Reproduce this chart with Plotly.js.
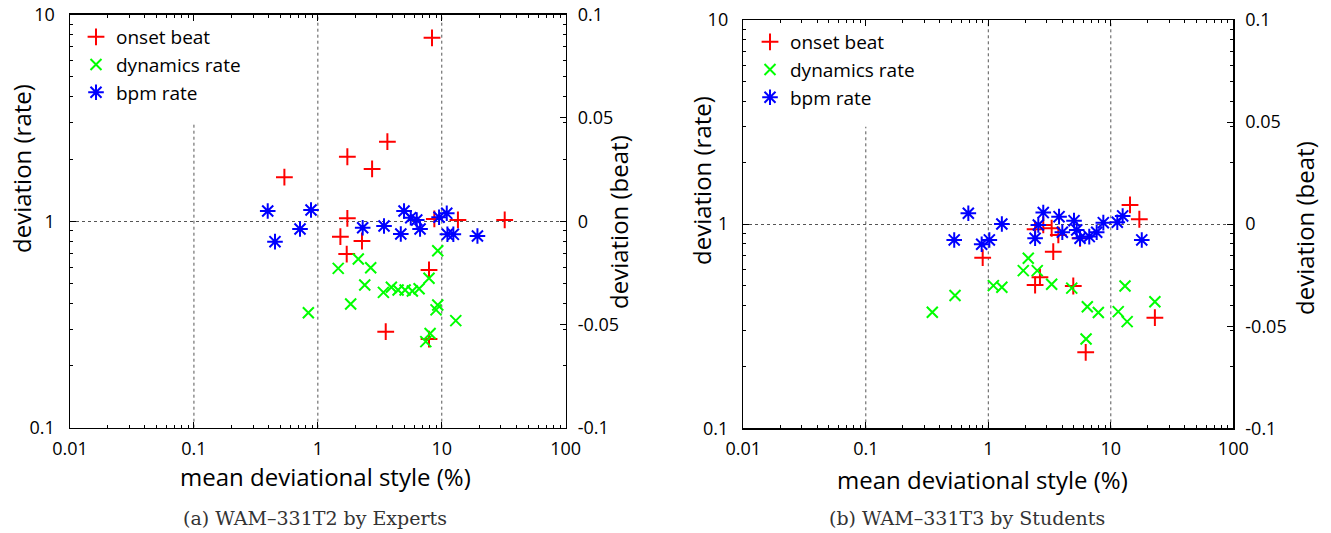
<!DOCTYPE html>
<html><head><meta charset="utf-8">
<script src="https://cdn.plot.ly/plotly-3.0.1.min.js"></script>
<style>html,body{margin:0;padding:0;background:#fff}#chart{width:1331px;height:533px}</style>
</head><body><div id="chart"></div>
<script>
// ---------- Panel (a): WAM-331T2 by Experts ----------
const onsetA_x    = [8.34, 3.64, 1.73, 2.74, 0.537, 1.73, 1.52, 2.27, 1.71, 7.89, 3.53, 7.89, 8.71, 13.5, 32.2];
const onsetA_beat = [0.0888, 0.0385, 0.0312, 0.0253, 0.0213, 0.0014, -0.0075, -0.0096, -0.0159, -0.0236, -0.0535, -0.0571, 0.0011, 0.0006, 0.0006];
const dynA_x      = [9.28, 2.12, 1.46, 2.67, 7.89, 2.39, 3.38, 3.92, 4.44, 5.06, 5.79, 6.56, 1.84, 9.28, 8.99, 0.838, 12.97, 8.05, 7.43];
const dynA_rate   = [0.719, 0.656, 0.591, 0.595, 0.529, 0.491, 0.452, 0.479, 0.464, 0.464, 0.459, 0.471, 0.397, 0.393, 0.372, 0.360, 0.330, 0.286, 0.261];
const bpmA_x      = [0.394, 0.881, 0.718, 0.451, 2.30, 3.42, 4.67, 4.96, 5.62, 6.28, 6.68, 9.51, 10.97, 11.1, 12.4, 19.4];
const bpmA_rate   = [1.120, 1.133, 0.917, 0.796, 0.930, 0.948, 0.867, 1.120, 1.040, 1.013, 0.917, 1.045, 1.092, 0.864, 0.864, 0.848];

// ---------- Panel (b): WAM-331T3 by Students ----------
const onsetB_x    = [14.35, 17.1, 0.90, 3.39, 2.41, 2.81, 3.29, 3.73, 5.61, 2.64, 2.41, 4.94, 22.9, 6.24];
const onsetB_beat = [0.0094, 0.0024, -0.0164, -0.0135, -0.0025, -0.0004, -0.0020, -0.0053, -0.0069, -0.0260, -0.0298, -0.0303, -0.0458, -0.0628];
const dynB_x      = [0.349, 0.535, 1.10, 1.29, 1.93, 2.12, 2.51, 3.29, 4.80, 6.43, 7.91, 6.28, 11.5, 13.06, 13.6, 22.9];
const dynB_rate   = [0.370, 0.447, 0.500, 0.491, 0.592, 0.681, 0.592, 0.508, 0.486, 0.394, 0.369, 0.274, 0.373, 0.498, 0.333, 0.417];
const bpmB_x      = [0.687, 0.527, 0.883, 1.02, 1.29, 2.41, 2.56, 2.81, 3.78, 4.02, 5.01, 5.27, 5.61, 6.67, 7.67, 8.69, 11.3, 12.5, 17.9];
const bpmB_rate   = [1.131, 0.837, 0.797, 0.837, 1.002, 0.853, 0.991, 1.139, 1.088, 0.913, 1.040, 0.937, 0.853, 0.869, 0.913, 1.017, 1.022, 1.097, 0.837];

// ---------- labels ----------
const seriesNames = ['onset beat', 'dynamics rate', 'bpm rate'];
const xTickVals = [0.01, 0.1, 1, 10, 100];
const xTickText = ['0.01', '0.1', '1', '10', '100'];
const rateTickVals = [0.1, 1, 10];
const rateTickText = ['0.1', '1', '10'];
const beatTickVals = [-0.1, -0.05, 0, 0.05, 0.1];
const beatTickText = ['-0.1', '-0.05', '0', '0.05', '0.1'];
const xTitle = 'mean deviational style (%)';
const rateTitle = 'deviation (rate)';
const beatTitle = 'deviation (beat)';
const captionA = '(a) WAM–331T2 by Experts';
const captionB = '(b) WAM–331T3 by Students';

// ---------- helpers ----------
const W = 1331, H = 533;
const px = v => v / W;
const py = v => (H - v) / H;
function minorVals(k0, k1) {
  const out = [];
  for (let k = k0; k < k1; k++) for (let d = 2; d <= 9; d++) out.push(+(d * Math.pow(10, k)).toPrecision(3));
  return out;
}
const tickFont = {family: 'Open Sans, sans-serif', size: 18, color: '#000'};
const RED = '#ff0000', GREEN = '#00ff00', BLUE = '#0000ff';

function markerPlus(c) { return {symbol: 'cross-thin', size: 12, color: c, line: {color: c, width: 2}}; }
function markerX(c) { return {symbol: 'x-thin', size: 11, color: c, line: {color: c, width: 2}}; }
function markerStar(c) { return {symbol: 'asterisk-open', size: 13, color: c, line: {color: c, width: 2}}; }

const traces = [
  {type: 'scatter', mode: 'markers', name: seriesNames[0], x: onsetA_x, y: onsetA_beat, xaxis: 'x', yaxis: 'y', marker: markerPlus(RED), legend: 'legend'},
  {type: 'scatter', mode: 'markers', name: seriesNames[1], x: dynA_x, y: dynA_rate, xaxis: 'x', yaxis: 'y2', marker: markerX(GREEN), legend: 'legend'},
  {type: 'scatter', mode: 'markers', name: seriesNames[2], x: bpmA_x, y: bpmA_rate, xaxis: 'x', yaxis: 'y2', marker: markerStar(BLUE), legend: 'legend'},
  {type: 'scatter', mode: 'markers', name: seriesNames[0], x: onsetB_x, y: onsetB_beat, xaxis: 'x2', yaxis: 'y3', marker: markerPlus(RED), legend: 'legend2'},
  {type: 'scatter', mode: 'markers', name: seriesNames[1], x: dynB_x, y: dynB_rate, xaxis: 'x2', yaxis: 'y4', marker: markerX(GREEN), legend: 'legend2'},
  {type: 'scatter', mode: 'markers', name: seriesNames[2], x: bpmB_x, y: bpmB_rate, xaxis: 'x2', yaxis: 'y4', marker: markerStar(BLUE), legend: 'legend2'}
];

function xAxis(domain, anchor) {
  return {type: 'log', range: [-2, 2], domain: domain, anchor: anchor,
    tickmode: 'array', tickvals: xTickVals, ticktext: xTickText,
    ticks: 'inside', ticklen: 6, tickwidth: 1, tickcolor: '#000',
    showline: true, linecolor: '#000', linewidth: 1.5, mirror: 'ticks',
    showgrid: false, zeroline: false, tickfont: tickFont, ticklabelstandoff: 4,
    minor: {tickmode: 'array', tickvals: minorVals(-2, 2), ticks: 'inside', ticklen: 3, tickwidth: 1, tickcolor: '#000', showgrid: false}};
}
function beatAxis(domain, anchor) {
  return {type: 'linear', range: [-0.1, 0.1], domain: domain, anchor: anchor, side: 'right',
    tickmode: 'array', tickvals: beatTickVals, ticktext: beatTickText,
    ticks: 'inside', ticklen: 6, tickwidth: 1, tickcolor: '#000',
    showline: false, showgrid: false, zeroline: false, tickfont: tickFont, ticklabelstandoff: 11};
}
function rateAxis(over, anchor) {
  return {type: 'log', range: [-1, 1], overlaying: over, anchor: anchor, side: 'left',
    tickmode: 'array', tickvals: rateTickVals, ticktext: rateTickText,
    ticks: 'inside', ticklen: 6, tickwidth: 1, tickcolor: '#000',
    showline: true, linecolor: '#000', linewidth: 1.5, mirror: 'ticks',
    showgrid: true, gridcolor: '#555', griddash: 'dot', gridwidth: 1,
    zeroline: false, tickfont: tickFont, ticklabelstandoff: 10,
    minor: {tickmode: 'array', tickvals: minorVals(-1, 1), ticks: 'inside', ticklen: 3, tickwidth: 1, tickcolor: '#000', showgrid: false}};
}
function vgrid(xref, yref, xv, ytop) {
  return {type: 'line', xref: xref, yref: yref, x0: xv, x1: xv, y0: 0.1, y1: ytop, layer: 'below',
    line: {color: '#555', width: 1, dash: 'dot'}};
}
function legendAt(x, y) {
  return {x: x, y: y, xanchor: 'left', yanchor: 'top', bgcolor: 'rgba(0,0,0,0)', borderwidth: 0,
    font: {family: 'Open Sans, sans-serif', size: 19, color: '#000'}, tracegroupgap: 0};
}
const titleFont = {family: 'Open Sans, sans-serif', size: 24, color: '#000'};
const capFont = {family: 'DejaVu Serif, serif', size: 19, color: '#333'};
function ann(text, x, y, font, angle) {
  return {text: text, xref: 'paper', yref: 'paper', x: px(x), y: py(y), xanchor: 'center', yanchor: 'middle',
    showarrow: false, font: font, textangle: angle || 0};
}

const layout = {
  width: W, height: H, margin: {l: 0, r: 0, t: 0, b: 0},
  paper_bgcolor: '#fff', plot_bgcolor: 'rgba(0,0,0,0)',
  xaxis: xAxis([px(70), px(565.7)], 'y'),
  yaxis: beatAxis([py(427.7), py(14.7)], 'x'),
  yaxis2: rateAxis('y', 'x'),
  xaxis2: xAxis([px(743.3), px(1233.3)], 'y3'),
  yaxis3: beatAxis([py(428.3), py(20)], 'x2'),
  yaxis4: rateAxis('y3', 'x2'),
  legend: legendAt(px(76), py(18)),
  legend2: legendAt(px(750), py(23)),
  shapes: [
    vgrid('x', 'y2', 0.1, 3.0), vgrid('x', 'y2', 1, 10), vgrid('x', 'y2', 10, 10),
    vgrid('x2', 'y4', 0.1, 3.0), vgrid('x2', 'y4', 1, 10), vgrid('x2', 'y4', 10, 10)
  ],
  annotations: [
    ann(rateTitle, 22, 169, titleFont, -90),
    ann(beatTitle, 618, 222, titleFont, -90),
    ann(xTitle, 325, 476, titleFont),
    ann(captionA, 315, 518, capFont),
    ann(rateTitle, 701, 181, titleFont, -90),
    ann(beatTitle, 1305, 228, titleFont, -90),
    ann(xTitle, 982, 479, titleFont),
    ann(captionB, 967, 518, capFont)
  ]
};

Plotly.newPlot('chart', traces, layout, {displayModeBar: false, staticPlot: true});
</script>
</body></html>
